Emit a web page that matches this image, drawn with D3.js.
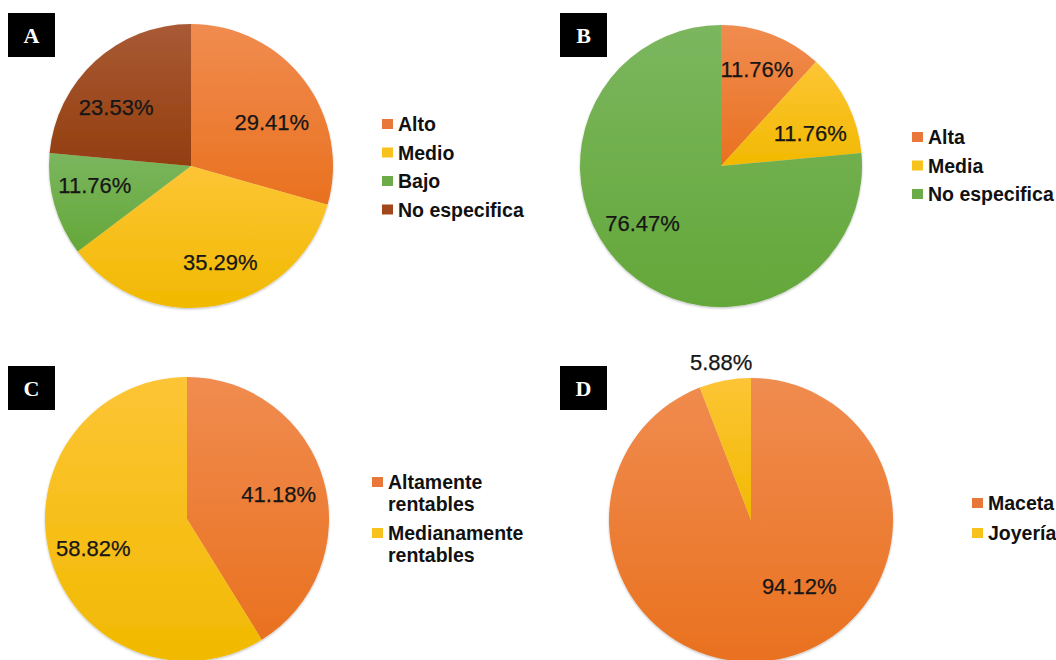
<!DOCTYPE html>
<html><head><meta charset="utf-8">
<script src="https://cdn.jsdelivr.net/npm/d3@7"></script>
<style>html,body{margin:0;padding:0;background:#fff;}</style>
</head><body>
<svg id="chart" width="1056" height="660"></svg>
<script>
// ---- data ----
const catsA = ["Alto", "Medio", "Bajo", "No especifica"];
const valsA = [29.41, 35.29, 11.76, 23.53];
const catsB = ["Alta", "Media", "No especifica"];
const valsB = [11.76, 11.76, 76.47];
const catsC = ["Altamente rentables", "Medianamente rentables"];
const valsC = [41.18, 58.82];
const catsD = ["Maceta", "Joyería"];
const valsD = [94.12, 5.88];
const panelLetters = ["A", "B", "C", "D"];

// ---- styles ----
const palette = {
  orange: ["#F08C50", "#E9711F"],
  yellow: ["#FDC535", "#F1B900"],
  green:  ["#7BB65E", "#64A739"],
  brown:  ["#A95A34", "#933E10"]
};
const legendSwatch = {orange:"#E9773A", yellow:"#F8C21D", green:"#6CAC48", brown:"#A2471B"};

// ---- layout (positions only) ----
const panels = [
  {cats: catsA, vals: valsA, colors: ["orange","yellow","green","brown"],
   cx: 191, cy: 166, r: 142, box: [8, 13],
   labelPolar: [[61.5, 92], [163, 100], [259, 98], [308, 95]],
   legend: {x: 382, y: 124, step: 28.5, lines: null}},
  {cats: catsB, vals: valsB, colors: ["orange","yellow","green"],
   cx: 721, cy: 166, r: 141, box: [560, 13],
   labelPolar: [[20.4, 103], [70, 95], [234, 97]],
   legend: {x: 912, y: 137, step: 28.5, lines: null}},
  {cats: catsC, vals: valsC, colors: ["orange","yellow"],
   cx: 187, cy: 519, r: 142, box: [8, 366],
   labelPolar: [[74.8, 95], [253, 98]],
   legend: {x: 372, y: 482, step: 51, lines: [["Altamente","rentables"],["Medianamente","rentables"]]}},
  {cats: catsD, vals: valsD, colors: ["orange","yellow"],
   cx: 751, cy: 520, r: 142, box: [560, 366],
   labelPolar: [[144, 82], [349.3, 161]],
   legend: {x: 972, y: 503, step: 30, lines: null}}
];

const svg = d3.select("#chart");
const defs = svg.append("defs");
Object.entries(palette).forEach(([k, c]) => {
  const g = defs.append("linearGradient").attr("id", "g-" + k)
    .attr("x1", 0).attr("y1", 0).attr("x2", 0).attr("y2", 1);
  g.append("stop").attr("offset", "0%").attr("stop-color", c[0]);
  g.append("stop").attr("offset", "100%").attr("stop-color", c[1]);
});
const soft = defs.append("filter").attr("id", "soft").attr("x", "-5%").attr("y", "-5%").attr("width", "110%").attr("height", "112%");
soft.append("feDropShadow").attr("dx", 0).attr("dy", 1.2).attr("stdDeviation", 1.2)
  .attr("flood-color", "#000").attr("flood-opacity", 0.25);

const pie = d3.pie().sort(null).value(d => d);
const fmt = d3.format(".2f");

panels.forEach((p, pi) => {
  const g = svg.append("g").attr("transform", `translate(${p.cx},${p.cy})`);
  const arcs = pie(p.vals);
  const arc = d3.arc().innerRadius(0).outerRadius(p.r);
  g.append("g").attr("filter", "url(#soft)")
    .selectAll("path.slice").data(arcs).join("path")
    .attr("class", "slice")
    .attr("d", arc)
    .attr("fill", (d, i) => `url(#g-${p.colors[i]})`);

  // labels
  g.selectAll("text.lbl").data(arcs).join("text")
    .attr("class", "lbl")
    .attr("x", (d, i) => p.labelPolar[i][1] * Math.sin(p.labelPolar[i][0] * Math.PI / 180))
    .attr("y", (d, i) => -p.labelPolar[i][1] * Math.cos(p.labelPolar[i][0] * Math.PI / 180))
    .attr("dy", "0.36em")
    .attr("text-anchor", "middle")
    .attr("font-family", "Liberation Sans, Arial, sans-serif")
    .attr("font-size", 22)
    .attr("fill", "#161616")
    .attr("stroke", "#161616").attr("stroke-width", 0.25)
    .text(d => fmt(d.data) + "%");

  // panel letter box
  svg.append("rect").attr("x", p.box[0]).attr("y", p.box[1]).attr("width", 47).attr("height", 44).attr("fill", "#000");
  svg.append("text").attr("x", p.box[0] + 23.5).attr("y", p.box[1] + 30)
    .attr("text-anchor", "middle")
    .attr("font-family", "Liberation Serif, Times New Roman, serif")
    .attr("font-weight", "bold").attr("font-size", 22).attr("fill", "#fff")
    .text(panelLetters[pi]);

  // legend
  const lg = svg.append("g");
  p.cats.forEach((c, i) => {
    const y = p.legend.y + i * p.legend.step;
    lg.append("rect").attr("x", p.legend.x).attr("y", y - 5).attr("width", 11).attr("height", 10)
      .attr("fill", legendSwatch[p.colors[i]]);
    const lines = p.legend.lines ? p.legend.lines[i] : [c];
    const t = lg.append("text")
      .attr("font-family", "Liberation Sans, Arial, sans-serif")
      .attr("font-weight", "bold").attr("font-size", 19.5).attr("fill", "#111");
    lines.forEach((ln, j) => {
      t.append("tspan").attr("x", p.legend.x + 16).attr("y", y + j * 22).attr("dy", "0.36em").text(ln);
    });
  });
});
</script>
</body></html>
